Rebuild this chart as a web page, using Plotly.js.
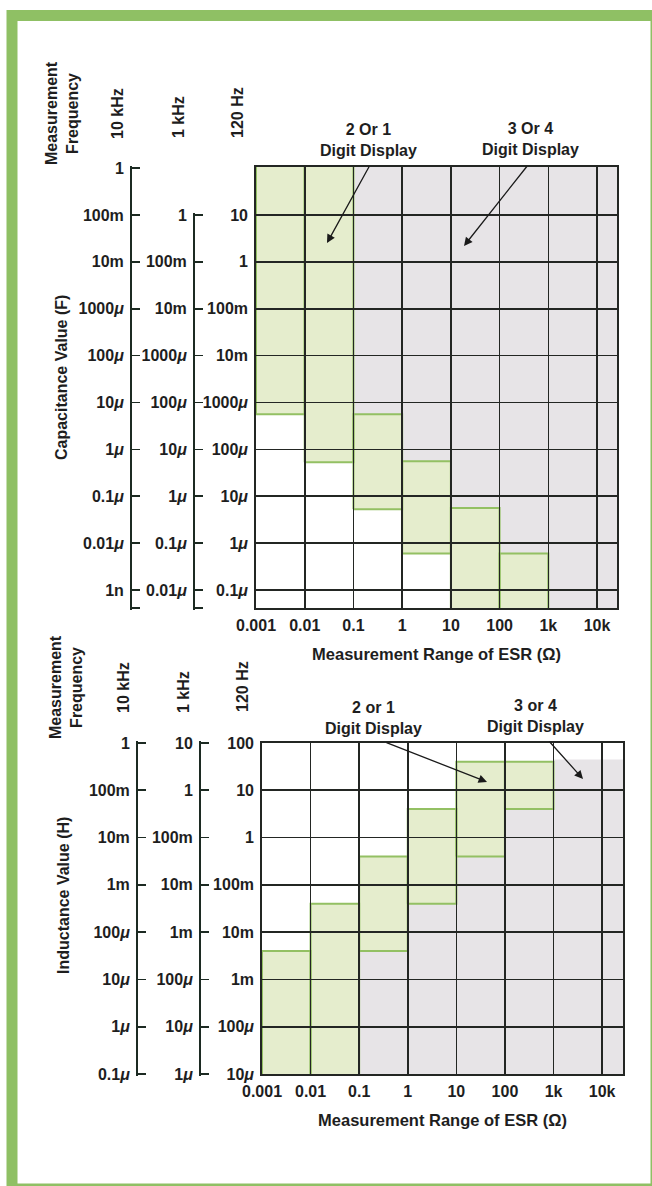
<!DOCTYPE html>
<html><head><meta charset="utf-8">
<script src="https://cdn.plot.ly/plotly-3.0.1.min.js"></script>
<style>html,body{margin:0;padding:0;background:#fff;overflow:hidden}#chart{width:652px;height:1186px}</style>
</head><body><div id="chart"></div>
<script>
// ================= DATA =================
// ESR decade columns (left edges, last entry = end of last column)
const esrColumnEdges = [0.001, 0.01, 0.1, 1, 10, 100, 1000, 10000, 100000];
const esrTickVals = [0.001, 0.01, 0.1, 1, 10, 100, 1000, 10000];
const esrTickText = ['0.001', '0.01', '0.1', '1', '10', '100', '1k', '10k'];

// --- Capacitance panel (F) ---
const cap120TickVals = [10, 1, 0.1, 0.01, 1e-3, 1e-4, 1e-5, 1e-6, 1e-7];
const cap120TickText = ['10', '1', '100m', '10m', '1000<i>μ</i>', '100<i>μ</i>', '10<i>μ</i>', '1<i>μ</i>', '0.1<i>μ</i>'];
const cap1kTickVals = [1, 0.1, 0.01, 1e-3, 1e-4, 1e-5, 1e-6, 1e-7, 1e-8];
const cap1kTickText = ['1', '100m', '10m', '1000<i>μ</i>', '100<i>μ</i>', '10<i>μ</i>', '1<i>μ</i>', '0.1<i>μ</i>', '0.01<i>μ</i>'];
const cap10kTickVals = [1, 0.1, 0.01, 1e-3, 1e-4, 1e-5, 1e-6, 1e-7, 1e-8, 1e-9];
const cap10kTickText = ['1', '100m', '10m', '1000<i>μ</i>', '100<i>μ</i>', '10<i>μ</i>', '1<i>μ</i>', '0.1<i>μ</i>', '0.01<i>μ</i>', '1n'];
// per ESR column, on the 120 Hz scale (1e3 / 1e-9 = beyond the chart edge)
const capTwoDigitTop    = [1e3, 1e3, 5.6e-4, 5.6e-5, 5.6e-6, 6e-7, null, null];
const capTwoDigitBottom = [5.6e-4, 5.3e-5, 5.3e-6, 6e-7, 1e-9, 1e-9, null, null];
const capFourDigitBottom = [null, null, 5.6e-4, 5.6e-5, 5.6e-6, 6e-7, 1e-9, 1e-9];
const capFourDigitTop    = [null, null, 1e3, 1e3, 1e3, 1e3, 1e3, 1e3];

// --- Inductance panel (H) ---
const ind120TickVals = [100, 10, 1, 0.1, 0.01, 1e-3, 1e-4, 1e-5];
const ind120TickText = ['100', '10', '1', '100m', '10m', '1m', '100<i>μ</i>', '10<i>μ</i>'];
const ind1kTickVals = [10, 1, 0.1, 0.01, 1e-3, 1e-4, 1e-5, 1e-6];
const ind1kTickText = ['10', '1', '100m', '10m', '1m', '100<i>μ</i>', '10<i>μ</i>', '1<i>μ</i>'];
const ind10kTickVals = [1, 0.1, 0.01, 1e-3, 1e-4, 1e-5, 1e-6, 1e-7];
const ind10kTickText = ['1', '100m', '10m', '1m', '100<i>μ</i>', '10<i>μ</i>', '1<i>μ</i>', '0.1<i>μ</i>'];
const indTwoDigitTop    = [4e-3, 4e-2, 0.4, 4, 40, 40, null, null];
const indTwoDigitBottom = [1e-6, 1e-6, 4e-3, 4e-2, 0.4, 4, null, null];
const indFourDigitTop    = [null, null, 4e-3, 4e-2, 0.4, 4, 45, 45];
const indFourDigitBottom = [null, null, 1e-6, 1e-6, 1e-6, 1e-6, 1e-6, 1e-6];

// ================= STYLE / GEOMETRY =================
const W = 652, H = 1186;
const FONT = 'Liberation Sans, Arial, Helvetica, sans-serif';
const TXT = '#1e1e1e';
const GRID = '#232623';
const AXLINE = '#1c2a22';
const GREEN_FILL = '#e5edcd';
const GREEN_EDGE = '#93c063';
const GREY_FILL = '#e7e4e7';
const fx = px => px / W;
const fy = py => 1 - py / H;

const topBox = {l: 256, r: 617, t: 167, b: 608, xr: [-3, 4.41], yr: [-7.384, 2.024]};
const botBox = {l: 262, r: 623, t: 743, b: 1074, xr: [-3, 4.43], yr: [-5, 2]};

function rects(edges, lows, highs) {
  const xs = [], ys = [];
  for (let i = 0; i < lows.length; i++) {
    if (lows[i] == null || highs[i] == null) continue;
    const x0 = edges[i], x1 = edges[i + 1], lo = lows[i], hi = highs[i];
    xs.push(x0, x1, x1, x0, x0, null);
    ys.push(lo, lo, hi, hi, lo, null);
  }
  return {xs, ys};
}

function fillTrace(r, xa, ya, fill, edge) {
  return {
    type: 'scatter', mode: 'lines', x: r.xs, y: r.ys, xaxis: xa, yaxis: ya,
    fill: 'toself', fillcolor: fill,
    line: {color: edge || fill, width: edge ? 2 : 0},
    hoverinfo: 'skip', showlegend: false
  };
}

const tickFont = {family: FONT, size: 16, color: TXT, weight: 700};

function mainX(box, anchor) {
  return {
    domain: [fx(box.l), fx(box.r)], anchor: anchor, type: 'log', range: box.xr,
    tickmode: 'array', tickvals: esrTickVals, ticktext: esrTickText,
    ticks: 'inside', ticklen: box.b - box.t, tickwidth: 1.6, tickcolor: GRID,
    showline: true, mirror: true, linecolor: GRID, linewidth: 1.8,
    showgrid: false, zeroline: false, layer: 'above traces',
    tickfont: tickFont, ticklabelstandoff: 2,
    title: {text: 'Measurement Range of ESR (Ω)', font: {family: FONT, size: 16.5, color: TXT, weight: 700}, standoff: 15},
    fixedrange: true
  };
}
function mainY(box, anchor, vals, text) {
  return {
    domain: [fy(box.b), fy(box.t)], anchor: anchor, type: 'log', range: box.yr,
    tickmode: 'array', tickvals: vals, ticktext: text,
    ticks: 'inside', ticklen: box.r - box.l, tickwidth: 1.6, tickcolor: GRID,
    showline: true, mirror: true, linecolor: GRID, linewidth: 1.8,
    showgrid: false, zeroline: false, layer: 'above traces',
    tickfont: tickFont, ticklabelstandoff: 3, fixedrange: true
  };
}
// secondary frequency scale: own = main / 10^shift; line runs from topLog down to plot bottom
function sideY(box, shift, topLog, posPx, vals, text) {
  const pxPerDec = (box.b - box.t) / (box.yr[1] - box.yr[0]);
  const pad = 2; // px, keeps end caps from being clipped
  const r0 = box.yr[0] - shift;
  const topPx = box.b - (topLog + shift - box.yr[0]) * pxPerDec;
  const tv = vals.slice(), tt = text.slice();
  const hasEnd = vals.some(v => Math.abs(Math.log10(v) - r0) < 1e-6);
  if (!hasEnd) { tv.push(Math.pow(10, r0)); tt.push(''); }
  return {
    domain: [fy(box.b + pad), fy(topPx - pad)], anchor: 'free', position: fx(posPx), side: 'left',
    type: 'log', range: [r0 - pad / pxPerDec, topLog + pad / pxPerDec],
    tickmode: 'array', tickvals: tv, ticktext: tt,
    ticks: 'inside', ticklen: 8, tickwidth: 1.6, tickcolor: AXLINE,
    showline: true, linecolor: AXLINE, linewidth: 1.6,
    showgrid: false, zeroline: false,
    tickfont: tickFont, ticklabelstandoff: 3, fixedrange: true
  };
}
function ghost(xa, ya, vals) {
  return {type: 'scatter', mode: 'markers', x: vals.map(() => 1), y: vals, xaxis: xa, yaxis: ya,
    marker: {opacity: 0, size: 1}, hoverinfo: 'skip', showlegend: false};
}

const traces = [
  fillTrace(rects(esrColumnEdges, capFourDigitBottom, capFourDigitTop), 'x', 'y', GREY_FILL),
  fillTrace(rects(esrColumnEdges, capTwoDigitBottom, capTwoDigitTop), 'x', 'y', GREEN_FILL, GREEN_EDGE),
  ghost('x', 'y2', cap1kTickVals),
  ghost('x', 'y3', cap10kTickVals),
  fillTrace(rects(esrColumnEdges, indFourDigitBottom, indFourDigitTop), 'x2', 'y4', GREY_FILL),
  fillTrace(rects(esrColumnEdges, indTwoDigitBottom, indTwoDigitTop), 'x2', 'y4', GREEN_FILL, GREEN_EDGE),
  ghost('x2', 'y5', ind1kTickVals),
  ghost('x2', 'y6', ind10kTickVals)
];

const annFont = {family: FONT, size: 16, color: TXT, weight: 700};
function label(text, xpx, ypx, angle) {
  return {text: text, xref: 'paper', yref: 'paper', x: fx(xpx), y: fy(ypx), showarrow: false,
    xanchor: 'center', yanchor: 'middle', textangle: angle || 0, font: annFont, align: 'center'};
}
function arrow(headX, headY, tailX, tailY) {
  return {text: '', xref: 'paper', yref: 'paper', x: fx(headX), y: fy(headY),
    axref: 'pixel', ayref: 'pixel', ax: tailX - headX, ay: tailY - headY,
    showarrow: true, arrowhead: 2, arrowsize: 1.3, arrowwidth: 1.3, arrowcolor: '#1a1a1a', standoff: 0};
}

const annotations = [
  // top panel
  label('Measurement<br>Frequency', 62, 113, -90),
  label('10 kHz', 118, 114, -90),
  label('1 kHz', 178, 117, -90),
  label('120 Hz', 237, 113, -90),
  label('Capacitance Value (F)', 62, 378, -90),
  label('2 Or 1<br>Digit Display', 368, 140),
  label('3 Or 4<br>Digit Display', 530, 139),
  arrow(327, 243, 370, 165),
  arrow(464, 246, 528, 165),
  // bottom panel
  label('Measurement<br>Frequency', 66, 687, -90),
  label('10 kHz', 123, 688, -90),
  label('1 kHz', 183, 692, -90),
  label('120 Hz', 242, 687, -90),
  label('Inductance Value (H)', 63, 896, -90),
  label('2 or 1<br>Digit Display', 373, 718),
  label('3 or 4<br>Digit Display', 535, 716),
  arrow(487, 782, 385, 742),
  arrow(583, 779, 548, 740)
];

const layout = {
  width: W, height: H, margin: {l: 0, r: 0, t: 0, b: 0},
  paper_bgcolor: '#ffffff', plot_bgcolor: 'rgba(0,0,0,0)',
  font: {family: FONT, color: TXT, weight: 700},
  showlegend: false,
  xaxis: mainX(topBox, 'y'),
  yaxis: mainY(topBox, 'x', cap120TickVals, cap120TickText),
  yaxis2: sideY(topBox, 1, 0, 193, cap1kTickVals, cap1kTickText),
  yaxis3: sideY(topBox, 2, 0, 130, cap10kTickVals, cap10kTickText),
  xaxis2: mainX(botBox, 'y4'),
  yaxis4: mainY(botBox, 'x2', ind120TickVals, ind120TickText),
  yaxis5: sideY(botBox, 1, 1, 199, ind1kTickVals, ind1kTickText),
  yaxis6: sideY(botBox, 2, 0, 136, ind10kTickVals, ind10kTickText),
  annotations: annotations,
  shapes: [{type: 'rect', xref: 'paper', yref: 'paper',
    x0: fx(12), x1: fx(656), y0: fy(15.5), y1: fy(1189),
    line: {color: '#8fc064', width: 11}, fillcolor: 'rgba(0,0,0,0)', layer: 'above'}]
};

Plotly.newPlot('chart', traces, layout, {staticPlot: true, displayModeBar: false});
</script>
</body></html>
